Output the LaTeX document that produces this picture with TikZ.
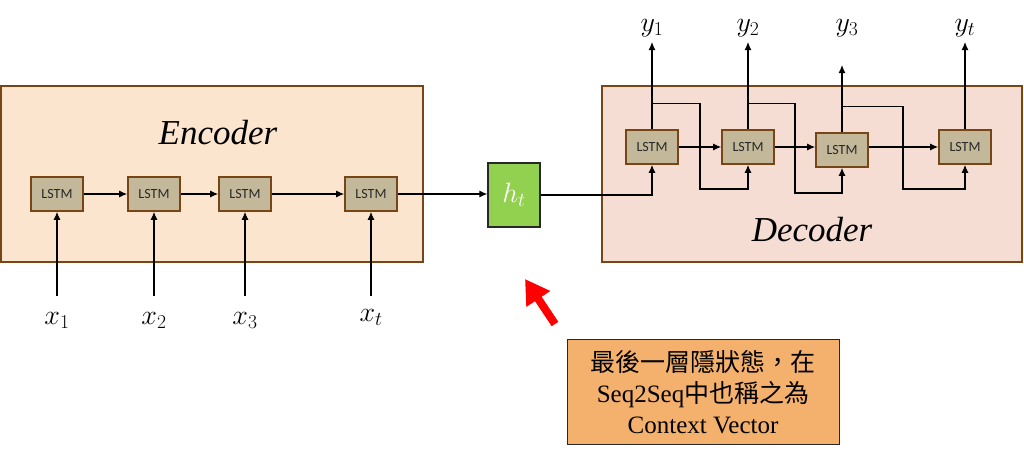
\RequirePackage{fix-cm}
\documentclass[tikz,border=0pt]{standalone}
\usepackage{fontspec}
\setmainfont{Liberation Serif}
\newfontfamily\cjk{Noto Sans CJK TC}
\newfontfamily\cellfont{Carlito}
\usetikzlibrary{positioning,arrows.meta,calc}
\definecolor{sqEncFill}{RGB}{251,229,206}
\definecolor{sqDecFill}{RGB}{245,221,211}
\definecolor{sqBrown}{RGB}{120,70,22}
\definecolor{sqCell}{RGB}{196,184,155}
\definecolor{sqGreen}{RGB}{146,208,80}
\definecolor{sqNote}{RGB}{244,177,110}
\definecolor{sqGray}{RGB}{40,40,40}
\tikzset{
    panel/.style={rectangle, draw=sqBrown, line width=1.6pt, inner sep=0pt},
    cell/.style={rectangle, draw=sqBrown, line width=1.6pt, fill=sqCell,
                 minimum width=52pt, minimum height=34pt, inner sep=0pt,
                 font=\cellfont\fontsize{14}{16}\selectfont, text=sqGray},
    title/.style={font=\fontsize{35}{40}\selectfont\itshape},
    sym/.style={font=\fontsize{28}{32}\selectfont, inner sep=0pt},
    flow/.style={->, >={Latex[length=8pt,width=7pt]}, line width=1.2pt, color=black},
    pointer/.style={-{Triangle[length=24pt,width=27pt]}, line width=8pt, color=red},
    notebox/.style={rectangle, draw=sqGray, line width=0.8pt, fill=sqNote,
                    minimum width=272pt, minimum height=105pt, align=center,
                    font=\fontsize{25}{31}\selectfont}
}
\begin{document}
\begin{tikzpicture}[x=1pt, y=-1pt]
  \useasboundingbox (0,0) rectangle (1024,455);

  % Encoder (left)
  \node[panel, fill=sqEncFill, minimum width=422pt, minimum height=176pt] (encoder) at (212,174) {};
  \node[title] (enctitle) at (218,133) {Encoder};
  \node[cell] (e1) at (57,194) {LSTM};
  \node[cell] (e2) at (154,194) {LSTM};
  \node[cell] (e3) at (245,194) {LSTM};
  \node[cell] (e4) at (371,194) {LSTM};
  \draw[flow] (e1) -- (e2);
  \draw[flow] (e2) -- (e3);
  \draw[flow] (e3) -- (e4);

  % inputs
  \node[sym, anchor=north] (x1) at (57,312) {$x_1$};
  \node[sym, anchor=north] (x2) at (154,312) {$x_2$};
  \node[sym, anchor=north] (x3) at (245,312) {$x_3$};
  \node[sym, anchor=north] (xt) at (371,309) {$x_t$};
  \draw[flow, shorten <=16pt] (x1.north) -- (e1);
  \draw[flow, shorten <=16pt] (x2.north) -- (e2);
  \draw[flow, shorten <=16pt] (x3.north) -- (e3);
  \draw[flow, shorten <=13pt] (xt.north) -- (e4);

  % Context vector
  \node[rectangle, draw=sqGray, line width=1.2pt, fill=sqGreen, minimum width=52pt,
        minimum height=64pt, text=white, font=\fontsize{28}{32}\selectfont] (ht) at (514,195) {$h_t$};
  \draw[flow] (e4.east) -- (e4.east -| ht.west);

  % Decoder (right)
  \node[panel, fill=sqDecFill, minimum width=420pt, minimum height=176pt] (decoder) at (812,174) {};
  \node[title] (dectitle) at (812,230) {Decoder};
  \node[cell] (d1) at (652,147) {LSTM};
  \node[cell] (d2) at (748,147) {LSTM};
  \node[cell] (d3) at (842,150) {LSTM};
  \node[cell] (d4) at (965,147) {LSTM};
  \draw[flow] (ht.east) -| (d1.south);
  \draw[flow] (d1) -- (d2);
  \draw[flow] (d2.east) -- (d2.east -| d3.west);
  \draw[flow] (d3.east |- d4.west) -- (d4.west);

  % outputs
  \node[sym, anchor=south] (y1) at (652,37) {$y_1$};
  \node[sym, anchor=south] (y2) at (748,37) {$y_2$};
  \node[sym, anchor=south] (y3) at (847,37) {$y_3$};
  \node[sym, anchor=south] (yt) at (965,37) {$y_t$};
  \draw[flow, shorten >=5pt] (d1) -- (y1.south);
  \draw[flow, shorten >=5pt] (d2) -- (y2.south);
  \draw[flow, shorten >=28pt] (d3.north) -- (d3.north |- y3.south);
  \draw[flow, shorten >=5pt] (d4) -- (yt.south);

  % feedback of each output
  \draw[flow] (d1.north) ++(0,-26) -| (700,189) -| (d2.south);
  \draw[flow] (d2.north) ++(0,-26) -| (795,193) -| (d3.south);
  \draw[flow] (d3.north) ++(0,-26) -| (903,189) -| (d4.south);

  % Annotation
  \coordinate (pointtail) at (555,324);
  \coordinate (pointtip) at (525,279);
  \draw[pointer] (pointtail) -- (pointtip);
  \node[notebox] (note) at (703,392) {
    {\cjk 最後一層隱狀態，在}\\
    Seq2Seq{\cjk 中也稱之為}\\
    Context Vector
  };
\end{tikzpicture}
\end{document}
